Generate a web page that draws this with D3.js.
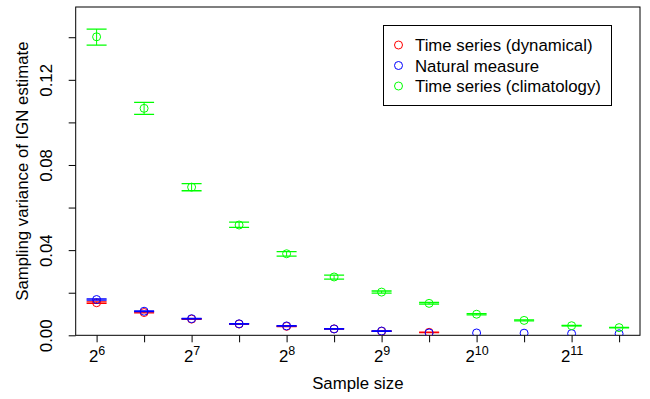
<!DOCTYPE html>
<html>
<head>
<meta charset="utf-8">
<script src="https://cdn.jsdelivr.net/npm/d3@7"></script>
<style>
  html, body { margin: 0; padding: 0; background: #fff; }
  text { font-family: "Liberation Sans", Arial, Helvetica, sans-serif; }
</style>
</head>
<body>
<svg id="chart" width="650" height="399"></svg>
<script>
// ---- Data ----
const exponents = [6, 6.5, 7, 7.5, 8, 8.5, 9, 9.5, 10, 10.5, 11, 11.5];
const sampleSizes = exponents.map(e => Math.pow(2, e));

const climMean  = [0.1402, 0.1066, 0.0696, 0.0518, 0.0383, 0.0274, 0.0203, 0.0150, 0.0099, 0.0070, 0.0045, 0.0036];
const climLower = [0.1363, 0.1038, 0.0679, 0.0507, 0.0372, 0.0264, 0.0198, 0.0146, 0.0096, 0.0068, 0.0044, 0.0035];
const climUpper = [0.1438, 0.1094, 0.0712, 0.0532, 0.0393, 0.0283, 0.0208, 0.0154, 0.0102, 0.0072, 0.0046, 0.0037];

const dynMean  = [0.0153, 0.0107, 0.0076, 0.0053, 0.0042, 0.0030, 0.0019, 0.0014, null, null, null, null];
const dynLower = [0.0150, 0.0105, 0.0075, 0.0052, 0.0041, 0.0029, 0.0018, 0.0013, null, null, null, null];
const dynUpper = [0.0157, 0.0110, 0.0078, 0.0055, 0.0043, 0.0031, 0.0020, 0.0015, null, null, null, null];

const natMean  = [0.0168, 0.0113, 0.0078, 0.0054, 0.0044, 0.0030, 0.0020, 0.0011, 0.0011, 0.0010, 0.0008, 0.0007];
const natLower = [0.0165, 0.0111, 0.0077, 0.0053, 0.0043, 0.0029, 0.0019, null, null, null, null, null];
const natUpper = [0.0171, 0.0115, 0.0079, 0.0055, 0.0045, 0.0031, 0.0021, null, null, null, null, null];

const yTicks = [0, 0.02, 0.04, 0.06, 0.08, 0.10, 0.12, 0.14];
const yTickLabels = ["0.00", "", "0.04", "", "0.08", "", "0.12", ""];
const xTickLabelExps = [6, null, 7, null, 8, null, 9, null, 10, null, 11, null];

const legendLabels = ["Time series (dynamical)", "Natural measure", "Time series (climatology)"];
const legendColors = ["#ff0000", "#0000ff", "#00ff00"];

const xTitle = "Sample size";
const yTitle = "Sampling variance of IGN estimate";

// ---- Layout ----
const pLeft = 75.7, pRight = 640, pTop = 7, pBottom = 335.3;
const svg = d3.select("#chart");
const FS = 16.8;

const x = d3.scaleLog().base(2)
  .domain([Math.pow(2, 5.78), Math.pow(2, 11.72)])
  .range([pLeft, pRight]);
const y = d3.scaleLinear().domain([0, 0.1542]).range([pBottom, pTop]);

// clip
svg.append("defs").append("clipPath").attr("id", "plotclip")
  .append("rect").attr("x", pLeft).attr("y", pTop)
  .attr("width", pRight - pLeft).attr("height", pBottom - pTop);

// ---- Axes ----
const yAxis = svg.append("g").attr("transform", `translate(${pLeft},0)`)
  .call(d3.axisLeft(y).tickValues(yTicks).tickSize(7).tickPadding(0)
    .tickFormat((d, i) => yTickLabels[i]));
yAxis.select(".domain").remove();
yAxis.selectAll(".tick line").attr("stroke", "#000");
yAxis.selectAll(".tick text")
  .attr("x", null).attr("dy", null).attr("y", null)
  .attr("text-anchor", "middle")
  .attr("transform", "translate(-23.5,0) rotate(-90)")
  .attr("font-size", FS).attr("fill", "#000")
  .style("font-family", "'Liberation Sans', Arial, sans-serif");

const xAxis = svg.append("g").attr("transform", `translate(0,${pBottom})`)
  .call(d3.axisBottom(x).tickValues(sampleSizes).tickSize(7).tickFormat(""));
xAxis.select(".domain").remove();
xAxis.selectAll(".tick line").attr("stroke", "#000");
xAxis.selectAll(".tick").each(function(d, i) {
  const e = xTickLabelExps[i];
  if (e === null) return;
  const t = d3.select(this).append("text")
    .attr("y", 27).attr("text-anchor", "middle").attr("fill", "#000")
    .attr("font-size", FS)
    .style("font-family", "'Liberation Sans', Arial, sans-serif");
  t.append("tspan").text("2");
  t.append("tspan").attr("dy", -7).attr("font-size", 12.5).text(String(e));
});

// box
svg.append("rect").attr("x", pLeft).attr("y", pTop)
  .attr("width", pRight - pLeft).attr("height", pBottom - pTop)
  .attr("fill", "none").attr("stroke", "#000").attr("stroke-width", 1);

// titles
svg.append("text").attr("x", (pLeft + pRight) / 2).attr("y", 389)
  .attr("text-anchor", "middle").attr("font-size", FS).attr("fill", "#000").text(xTitle);
svg.append("text").attr("transform", `translate(28,${(pTop + pBottom) / 2}) rotate(-90)`)
  .attr("text-anchor", "middle").attr("font-size", FS).attr("fill", "#000").text(yTitle);

// ---- Series ----
const plot = svg.append("g").attr("clip-path", "url(#plotclip)");
const cap = 10;

function drawSeries(mean, lower, upper, color) {
  const g = plot.append("g");
  const data = sampleSizes.map((s, i) => ({ s, m: mean[i], lo: lower[i], hi: upper[i] }));
  const withErr = data.filter(d => d.m !== null && d.lo !== null && d.hi !== null);
  g.selectAll("line.v").data(withErr).enter().append("line")
    .attr("x1", d => x(d.s)).attr("x2", d => x(d.s))
    .attr("y1", d => y(d.lo)).attr("y2", d => y(d.hi))
    .attr("stroke", color).attr("stroke-width", 1);
  g.selectAll("line.lo").data(withErr).enter().append("line")
    .attr("x1", d => x(d.s) - cap).attr("x2", d => x(d.s) + cap)
    .attr("y1", d => y(d.lo)).attr("y2", d => y(d.lo))
    .attr("stroke", color).attr("stroke-width", 1.3);
  g.selectAll("line.hi").data(withErr).enter().append("line")
    .attr("x1", d => x(d.s) - cap).attr("x2", d => x(d.s) + cap)
    .attr("y1", d => y(d.hi)).attr("y2", d => y(d.hi))
    .attr("stroke", color).attr("stroke-width", 1.3);
  g.selectAll("circle").data(data.filter(d => d.m !== null)).enter().append("circle")
    .attr("cx", d => x(d.s)).attr("cy", d => y(d.m)).attr("r", 4)
    .attr("fill", "none").attr("stroke", color).attr("stroke-width", 1);
}
drawSeries(dynMean, dynLower, dynUpper, legendColors[0]);
drawSeries(natMean, natLower, natUpper, legendColors[1]);
drawSeries(climMean, climLower, climUpper, legendColors[2]);

// ---- Legend ----
const lg = svg.append("g");
lg.append("rect").attr("x", 383.5).attr("y", 25.5).attr("width", 228).attr("height", 80)
  .attr("fill", "#fff").attr("stroke", "#000").attr("stroke-width", 1);
const lyPos = [45, 65.5, 86];
legendLabels.forEach((lab, i) => {
  lg.append("circle").attr("cx", 398.5).attr("cy", lyPos[i]).attr("r", 4)
    .attr("fill", "none").attr("stroke", legendColors[i]).attr("stroke-width", 1);
  lg.append("text").attr("x", 415).attr("y", lyPos[i] + 6)
    .attr("font-size", FS).attr("fill", "#000").text(lab);
});
</script>
</body>
</html>
